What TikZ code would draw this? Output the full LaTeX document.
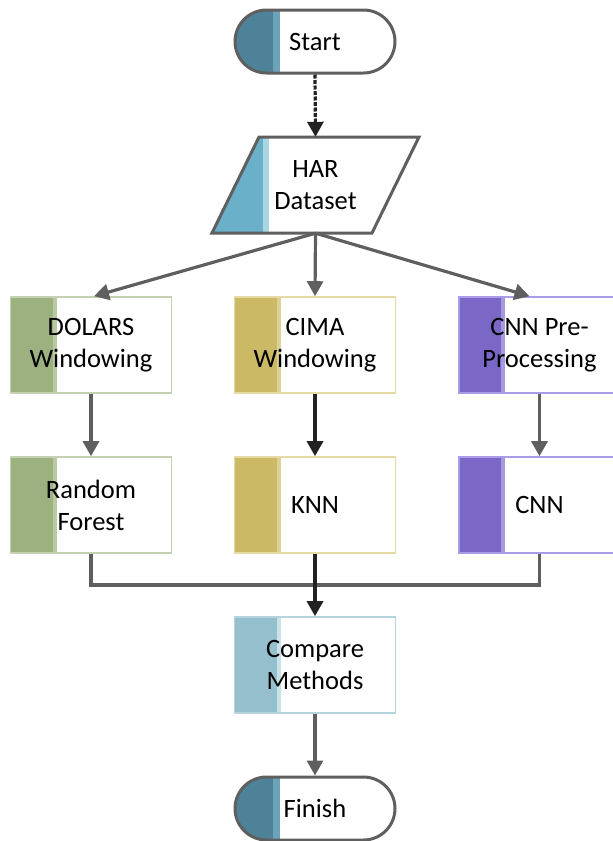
\documentclass[tikz,border=0pt]{standalone}
\usepackage{fontspec}
\setmainfont{Carlito}
\usetikzlibrary{shapes.misc,arrows.meta,calc}
\definecolor{outl}{HTML}{5F5F5F}
\definecolor{darkl}{HTML}{222222}
\definecolor{termA}{HTML}{4D8299}
\definecolor{termB}{HTML}{6CA3B8}
\definecolor{harA}{HTML}{6AB0C9}
\definecolor{harB}{HTML}{A9D6E3}
\definecolor{grnA}{HTML}{9DB07F}
\definecolor{grnB}{HTML}{B9C9A1}
\definecolor{grnC}{HTML}{C3D0B2}
\definecolor{yelA}{HTML}{CBB965}
\definecolor{yelB}{HTML}{DDD097}
\definecolor{yelC}{HTML}{E5D9A5}
\definecolor{purA}{HTML}{7B68C6}
\definecolor{purB}{HTML}{A699DE}
\definecolor{purC}{HTML}{A99BE6}
\definecolor{bluA}{HTML}{96BFCE}
\definecolor{bluB}{HTML}{C9E2EA}
\definecolor{bluC}{HTML}{B6D4DE}
\tikzset{
  txt/.style={align=center, font=\fontsize{26.5}{32}\selectfont, text=black},
  procbox/.style n args={3}{rectangle, txt, minimum width=161pt, minimum height=96pt,
    inner sep=0pt, line width=1.6pt, draw=#3, fill=white,
    path picture={
      \fill[#2] (path picture bounding box.south west) rectangle ([xshift=46pt]path picture bounding box.north west);
      \fill[#1] (path picture bounding box.south west) rectangle ([xshift=42pt]path picture bounding box.north west);}},
  termbox/.style={rounded rectangle, rounded rectangle arc length=180, txt,
    minimum width=160pt, minimum height=63pt, inner sep=0pt, line width=3pt, draw=outl, fill=white,
    path picture={
      \fill[termB] (path picture bounding box.south west) rectangle ([xshift=45pt]path picture bounding box.north west);
      \fill[termA] (path picture bounding box.south west) rectangle ([xshift=38pt]path picture bounding box.north west);}},
  conn/.style={draw=outl, line width=3.2pt, -{Triangle[length=15pt,width=16pt]}},
  darkconn/.style={draw=darkl, line width=3.2pt, -{Triangle[length=15pt,width=16pt]}},
}
\begin{document}
\begin{tikzpicture}[x=1pt,y=-1pt]
\useasboundingbox (0,0) rectangle (613,841);

\node[termbox] (start) at (315,41.5) {Start};

% HAR Dataset parallelogram
\node[txt, minimum width=160pt, minimum height=96pt, inner sep=0pt] (har) at (315.5,185) {};
\coordinate (p1) at ($(har.center)+(-56.5,-48)$);
\coordinate (p2) at ($(har.center)+(103.5,-48)$);
\coordinate (p3) at ($(har.center)+(56.5,48)$);
\coordinate (p4) at ($(har.center)+(-103.5,48)$);
\fill[white] (p1) -- (p2) -- (p3) -- (p4) -- cycle;
\begin{scope}
  \clip (p1) -- (p2) -- (p3) -- (p4) -- cycle;
  \fill[harB] (200,130) rectangle (269,240);
  \fill[harA] (200,130) rectangle (263,240);
\end{scope}
\draw[outl, line width=3pt, line join=miter] (p1) -- (p2) -- (p3) -- (p4) -- cycle;
\node[txt] at (har.center) {HAR\\Dataset};

\node[procbox={grnA}{grnB}{grnC}] (dolars) at (91,345) {DOLARS\\Windowing};
\node[procbox={yelA}{yelB}{yelC}] (cima) at (315,345) {CIMA\\Windowing};
\node[procbox={purA}{purB}{purC}] (cnnpre) at (539.5,345) {CNN Pre-\\Processing};

\node[procbox={grnA}{grnB}{grnC}] (rf) at (91,505) {Random\\Forest};
\node[procbox={yelA}{yelB}{yelC}] (knn) at (315,505) {KNN};
\node[procbox={purA}{purB}{purC}] (cnn) at (539.5,505) {CNN};

\node[procbox={bluA}{bluB}{bluC}] (cmp) at (315,665) {Compare\\Methods};
\node[termbox] (finish) at (315,808.5) {Finish};

\draw[darkconn, dash pattern=on 4pt off 1.5pt] (start.south) -- (har.north);
\draw[conn] (har.south) -- ($(dolars.north)+(3,0)$);
\draw[conn] (har.south) -- (cima.north);
\draw[conn] (har.south) -- ($(cnnpre.north)+(-10,0)$);

\draw[conn] (dolars.south) -- (rf.north);
\draw[darkconn] (cima.south) -- (knn.north);
\draw[conn] (cnnpre.south) -- (cnn.north);

\coordinate (mj) at (315,585);
\draw[outl, line width=3.2pt, line join=miter] (rf.south) |- (mj) -| (cnn.south);
\draw[darkconn] (knn.south) -- (cmp.north);
\draw[conn] (cmp.south) -- (finish.north);
\end{tikzpicture}
\end{document}
